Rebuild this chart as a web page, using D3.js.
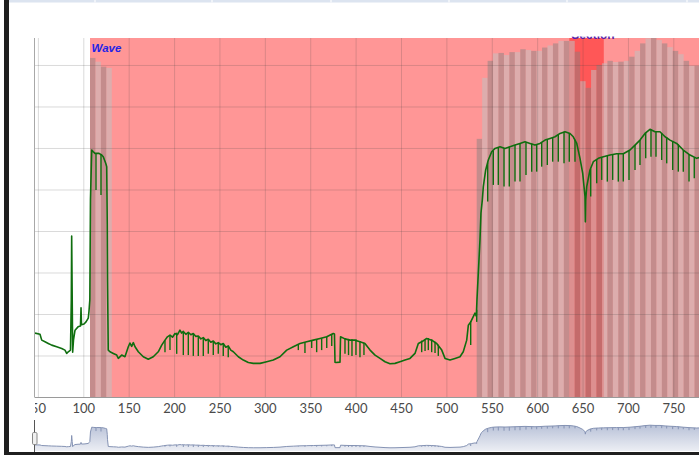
<html>
<head>
<script src="https://cdn.jsdelivr.net/npm/d3@7"></script>
<style>
  body { margin: 0; background: #fff; }
</style>
</head>
<body>
<script>

// ---- data ----
let xTicks = [50, 100, 150, 200, 250, 300, 350, 400, 450, 500, 550, 600, 650, 700, 750];
let gridLevels = [1, 2, 3, 4, 5, 6, 7, 8];

let waveBand = [107.4, 800];
let sectionBand = [635.4, 673.4];
let waveLabel = "Wave";
let sectionLabel = "Section";

let barStarts = [107.4, 113.4, 119.4, 125.4,
  533.4, 539.4, 545.4, 551.4, 557.4, 563.4, 569.4, 575.4, 581.4, 587.4,
  593.4, 599.4, 605.4, 611.4, 617.4, 623.4, 629.4, 635.4, 641.4, 647.4,
  653.4, 659.4, 665.4, 671.4, 677.4, 683.4, 689.4, 695.4, 701.4, 707.4,
  713.4, 719.4, 725.4, 731.4, 737.4, 743.4, 749.4, 755.4, 761.4, 767.4,
  773.4, 779.4];
let barHeights = [8.17, 8.08, 7.96, 7.93,
  6.22, 7.69, 8.10, 8.28, 8.29, 8.24, 8.31, 8.31, 8.38, 8.36,
  8.34, 8.34, 8.42, 8.47, 8.52, 8.58, 8.58, 8.58, 8.32, 7.61,
  7.45, 7.88, 8.00, 8.04, 8.10, 8.07, 8.08, 8.10, 8.20, 8.34,
  8.52, 8.64, 8.65, 8.60, 8.52, 8.43, 8.34, 8.26, 8.10, 7.98,
  7.98, 7.98];

// signal: [x, value]
let signal = [
  [46.8,1.54],[52.3,1.51],[54.2,1.37],[57.8,1.33],[61.4,1.29],[65.2,1.25],[70.7,1.21],[76.2,1.17],
  [79.8,1.13],[81.7,1.05],[83.5,1.09],[85.9,1.13],[86.8,2.34],[87.2,3.88],[87.8,2.34],[88.3,1.08],
  [89.2,1.37],[90.9,1.61],[94.2,1.69],[96.9,1.71],[97.5,2.15],[98.0,1.74],[100.8,1.76],[103.0,1.81],
  [105.5,1.90],[106.3,2.07],[107.2,2.34],[107.9,4.75],[109.3,5.95],[111.0,5.91],[112.9,5.87],[114.8,5.87],
  [117.3,5.87],[120.3,5.83],[122.0,5.79],[124.7,5.63],[125.8,5.55],[126.4,4.15],[126.7,2.82],[127.5,1.13],
  [129.4,1.09],[133.1,1.05],[136.8,1.01],[138.6,0.93],[142.3,1.01],[145.9,0.97],[149.6,1.21],[151.4,1.30],
  [153.3,1.22],[155.1,1.31],[157.0,1.21],[160.6,1.09],[166.1,0.97],[171.6,0.91],[177.1,0.97],[182.6,1.09],
  [186.4,1.25],[188.2,1.31],[190.0,1.37],[192.7,1.45],[195.5,1.49],[198.3,1.44],[201.0,1.53],[203.8,1.50],
  [206.5,1.61],[208.3,1.54],[210.2,1.58],[213.0,1.51],[215.7,1.56],[218.5,1.50],[221.2,1.53],[224.0,1.46],
  [226.7,1.47],[229.5,1.40],[232.2,1.43],[235.0,1.36],[237.7,1.39],[240.5,1.32],[243.2,1.35],[246.0,1.28],
  [248.7,1.31],[251.5,1.26],[254.2,1.29],[257.0,1.20],[259.7,1.23],[262.5,1.13],[265.3,1.09],[270.8,0.97],
  [276.3,0.89],[281.8,0.83],[287.3,0.81],[294.7,0.81],[302.1,0.85],[309.3,0.89],[316.7,0.97],[324.1,1.13],
  [331.4,1.21],[338.7,1.29],[346.1,1.33],[353.4,1.37],[360.8,1.41],[368.2,1.45],[375.4,1.53],[376.7,1.52],
  [377.3,0.84],[378.4,0.83],[382.8,0.84],[383.4,1.45],[388.3,1.40],[393.8,1.37],[399.3,1.37],[404.8,1.33],
  [410.3,1.29],[415.9,1.13],[421.4,1.01],[426.9,0.93],[432.4,0.85],[437.9,0.80],[443.4,0.81],[448.9,0.85],
  [454.4,0.89],[459.9,0.93],[465.4,1.05],[469.1,1.29],[472.8,1.33],[478.3,1.41],[483.8,1.37],[489.3,1.29],
  [494.9,1.13],[498.5,0.93],[504.0,0.89],[509.5,0.93],[515.0,0.97],[518.6,1.09],[522.4,1.37],[524.2,1.73],
  [526.8,1.81],[527.9,1.86],[531.5,2.02],[533.0,1.95],[533.7,2.34],[537.0,3.78],[538.1,4.43],[539.6,4.75],
  [540.7,5.07],[543.3,5.47],[546.2,5.71],[549.9,5.91],[553.6,5.99],[559.1,6.03],[564.6,5.99],[570.1,6.03],
  [575.6,6.07],[581.1,6.11],[586.6,6.15],[592.1,6.11],[597.6,6.07],[603.1,6.11],[608.7,6.19],[614.2,6.23],
  [619.7,6.27],[625.2,6.35],[630.7,6.39],[636.2,6.35],[639.8,6.27],[643.6,6.11],[647.2,5.75],[650.2,5.39],
  [652.7,4.83],[653.1,4.22],[653.5,4.75],[654.6,5.07],[658.2,5.47],[661.9,5.67],[667.4,5.75],[672.9,5.79],
  [680.3,5.83],[687.6,5.86],[694.9,5.86],[702.3,5.95],[707.8,6.07],[713.3,6.19],[718.8,6.35],[724.3,6.45],
  [729.8,6.39],[735.3,6.39],[740.9,6.27],[746.4,6.19],[753.7,6.11],[761.0,5.95],[768.4,5.83],[775.8,5.75],
  [781.0,5.79]
];

// short drops in the signal: [x, from, to]
let dips = [
  [114.0,5.87,4.99],[119.5,5.83,4.87],
  [190.0,1.37,1.08],[195.5,1.49,1.13],[202.9,1.55,1.04],[210.2,1.56,1.01],[215.7,1.55,1.01],[221.2,1.53,0.99],
  [226.7,1.47,0.99],[232.2,1.43,0.99],[237.7,1.39,1.04],[243.2,1.35,1.01],[248.7,1.31,1.04],[254.2,1.29,0.99],
  [259.7,1.23,0.96],
  [336.9,1.27,1.13],[344.2,1.32,1.06],[351.6,1.36,1.18],[357.1,1.39,1.08],[362.6,1.42,1.13],[368.2,1.46,1.18],
  [373.7,1.52,1.23],[388.3,1.42,1.04],[392.2,1.40,1.01],[396.0,1.39,0.99],[400.4,1.39,1.01],[404.8,1.35,0.96],
  [409.2,1.31,1.01],[472.8,1.36,1.08],[476.5,1.40,1.11],[480.1,1.42,1.13],[483.8,1.39,1.08],[487.5,1.33,1.06],
  [491.1,1.26,0.99],[526.8,1.83,1.25],[533.4,2.10,1.81],
  [545.5,5.65,4.71],[551.7,5.94,5.11],[557.2,6.02,5.11],[563.5,6.00,5.07],[569.3,6.03,5.07],[575.6,6.07,5.19],
  [581.1,6.11,5.19],[587.7,6.14,5.35],[594.0,6.11,5.43],[599.5,6.08,5.43],[605.0,6.14,5.55],[611.2,6.21,5.59],
  [617.1,6.25,5.67],[623.3,6.32,5.67],[629.6,6.39,5.63],[635.4,6.36,5.67],[641.7,6.20,5.67],
  [659.0,5.50,4.83],[665.6,5.73,5.15],[671.1,5.78,5.23],[677.3,5.81,5.19],[683.2,5.84,5.23],[689.4,5.86,5.19],
  [694.9,5.86,5.19],[701.2,5.94,5.23],[707.8,6.07,5.47],[713.3,6.19,5.59],[719.6,6.36,5.75],[725.4,6.45,5.79],
  [730.9,6.40,5.79],[737.2,6.35,5.71],[742.7,6.26,5.63],[749.3,6.16,5.47],[755.5,6.09,5.43],[761.0,5.95,5.43],
  [767.3,5.85,5.19],[773.1,5.77,5.27]
];

// ---- layout ----
let W = 699, H = 455;
let plot = {left: 35, right: 699, top: 38, bottom: 397};
let nav = {top: 420, bottom: 451};
let barStep = 6;

let x = d3.scaleLinear().domain([46.8, 778.3]).range([plot.left, plot.right]);
let y = d3.scaleLinear().domain([0, 8.65]).range([plot.bottom, plot.top]);
let yNav = d3.scaleLinear().domain([0, 6.5]).range([nav.bottom, 425]);

let svg = d3.select("body").append("svg")
    .attr("width", W)
    .attr("height", H)
    .style("display", "block");

let defs = svg.append("defs");
defs.append("clipPath").attr("id", "plotClip")
  .append("rect")
  .attr("x", plot.left).attr("y", plot.top)
  .attr("width", plot.right - plot.left).attr("height", plot.bottom - plot.top);
defs.append("clipPath").attr("id", "labelClip")
  .append("rect")
  .attr("x", plot.left).attr("y", 36.5)
  .attr("width", plot.right - plot.left).attr("height", plot.bottom - 36.5);
defs.append("clipPath").attr("id", "axisClip")
  .append("rect")
  .attr("x", plot.left).attr("y", plot.bottom)
  .attr("width", plot.right - plot.left).attr("height", 22);
defs.append("clipPath").attr("id", "navClip")
  .append("rect")
  .attr("x", plot.left).attr("y", nav.top - 4)
  .attr("width", plot.right - plot.left).attr("height", nav.bottom - nav.top + 6);

let grad = defs.append("linearGradient").attr("id", "navFill")
    .attr("x1", 0).attr("y1", 0).attr("x2", 0).attr("y2", 1);
grad.append("stop").attr("offset", "0%").attr("stop-color", "#b9c2d8");
grad.append("stop").attr("offset", "100%").attr("stop-color", "#eceef4");

// window chrome
svg.append("rect").attr("x", 9).attr("y", 0).attr("width", W - 9).attr("height", 2.5).attr("fill", "#dce4f0");
[95, 212, 331, 449, 567, 687].forEach(s =>
  svg.append("line")
    .attr("x1", s).attr("x2", s).attr("y1", 0).attr("y2", 2.5)
    .attr("stroke", "#f6f8fb").attr("stroke-width", 1.5)
);
svg.append("rect").attr("x", 4).attr("y", 0).attr("width", 5).attr("height", H).attr("fill", "#1f1f1f");
svg.append("rect").attr("x", 4).attr("y", 452).attr("width", W - 4).attr("height", 3).attr("fill", "#1f1f1f");

// ---- main plot ----
let g = svg.append("g").attr("clip-path", "url(#plotClip)");

g.append("rect")
  .attr("x", plot.left).attr("y", plot.top)
  .attr("width", plot.right - plot.left).attr("height", plot.bottom - plot.top)
  .attr("fill", "#ffffff");

// pink band
g.append("rect")
  .attr("x", x(waveBand[0])).attr("y", plot.top)
  .attr("width", x(waveBand[1]) - x(waveBand[0])).attr("height", plot.bottom - plot.top)
  .attr("fill", "#ff9696");

// red band
g.append("rect")
  .attr("x", x(sectionBand[0])).attr("y", plot.top)
  .attr("width", x(sectionBand[1]) - x(sectionBand[0])).attr("height", plot.bottom - plot.top)
  .attr("fill", "rgba(255,0,0,0.42)");

// bars
g.selectAll(".bar")
  .data(barStarts)
  .enter().append("rect")
  .attr("class", "bar")
  .attr("x", d => x(d))
  .attr("width", d => x(d + barStep) - x(d))
  .attr("y", (d, i) => y(barHeights[i]))
  .attr("height", (d, i) => plot.bottom - y(barHeights[i]))
  .attr("fill", (d, i) => i % 2 == 0 ? "rgba(129,129,129,0.47)" : "rgba(192,192,192,0.54)");

// grid
let gridColor = "rgba(70,70,70,0.2)";
let gridX = d3.axisBottom(x).tickValues(xTicks).tickSize(-(plot.bottom - plot.top)).tickFormat("");
g.append("g")
  .attr("transform", "translate(0," + plot.bottom + ")")
  .call(gridX)
  .call(a => a.select(".domain").remove())
  .call(a => a.selectAll("line").attr("stroke", gridColor));

let gridY = d3.axisLeft(y).tickValues(gridLevels).tickSize(-(plot.right - plot.left)).tickFormat("");
g.append("g")
  .attr("transform", "translate(" + plot.left + ",0)")
  .call(gridY)
  .call(a => a.select(".domain").remove())
  .call(a => a.selectAll("line").attr("stroke", gridColor));

// signal
let line = d3.line()
    .x(d => x(d[0]))
    .y(d => y(d[1]));

g.append("path")
  .datum(signal)
  .attr("d", line)
  .attr("fill", "none")
  .attr("stroke", "#0f6e0f")
  .attr("stroke-width", 1.6)
  .attr("stroke-linejoin", "round");

g.selectAll(".dip")
  .data(dips)
  .enter().append("line")
  .attr("class", "dip")
  .attr("x1", d => x(d[0])).attr("x2", d => x(d[0]))
  .attr("y1", d => y(d[1])).attr("y2", d => y(d[2]))
  .attr("stroke", "#0f6e0f")
  .attr("stroke-width", 1.4);

// band labels
g.append("text")
  .attr("x", x(waveBand[0]) + 1.5)
  .attr("y", 52)
  .attr("font-family", "Liberation Sans, Arial, sans-serif")
  .attr("font-size", 11.5)
  .attr("font-weight", "bold")
  .attr("font-style", "italic")
  .attr("fill", "#2424e6")
  .text(waveLabel);

svg.append("g")
  .attr("clip-path", "url(#labelClip)")
  .append("text")
  .attr("x", x(sectionBand[0]) + 2)
  .attr("y", 39)
  .attr("font-family", "Liberation Sans, Arial, sans-serif")
  .attr("font-size", 12)
  .attr("font-weight", "bold")
  .attr("fill", "#5a1fa8")
  .text(sectionLabel);

// axis lines
svg.append("line")
  .attr("x1", plot.left - 0.5).attr("x2", plot.left - 0.5)
  .attr("y1", plot.top).attr("y2", plot.bottom)
  .attr("stroke", "#a8a8a8");
svg.append("line")
  .attr("x1", plot.left - 0.5).attr("x2", plot.right)
  .attr("y1", plot.bottom + 0.5).attr("y2", plot.bottom + 0.5)
  .attr("stroke", "#9a9a9a");

// x labels
let xAxis = d3.axisBottom(x).tickValues(xTicks).tickSize(0).tickPadding(7);
svg.append("g")
  .attr("clip-path", "url(#axisClip)")
  .append("g")
  .attr("transform", "translate(0," + plot.bottom + ")")
  .call(xAxis)
  .call(a => a.select(".domain").remove())
  .call(a => a.selectAll("text")
      .attr("font-family", "Lato, sans-serif")
      .attr("font-size", 13)
      .attr("fill", "#4a4a4a"));

// ---- navigator ----
let ng = svg.append("g").attr("clip-path", "url(#navClip)");

let navArea = d3.area()
    .x(d => x(d[0]))
    .y0(nav.bottom)
    .y1(d => yNav(d[1]));

ng.append("path")
  .datum(signal)
  .attr("d", navArea)
  .attr("fill", "url(#navFill)");

ng.append("path")
  .datum(signal)
  .attr("d", d3.line().x(d => x(d[0])).y(d => yNav(d[1])))
  .attr("fill", "none")
  .attr("stroke", "#8593b4")
  .attr("stroke-width", 1);

ng.selectAll(".navdip")
  .data(dips)
  .enter().append("line")
  .attr("x1", d => x(d[0])).attr("x2", d => x(d[0]))
  .attr("y1", d => yNav(d[1])).attr("y2", d => yNav(d[2]))
  .attr("stroke", "#8593b4")
  .attr("stroke-width", 1);

// navigator handle
svg.append("line")
  .attr("x1", 34.5).attr("x2", 34.5)
  .attr("y1", nav.top).attr("y2", 452)
  .attr("stroke", "#555");
svg.append("rect")
  .attr("x", 32.5).attr("y", 432.5)
  .attr("width", 4.5).attr("height", 12)
  .attr("rx", 1.2)
  .attr("fill", "#f0f0f0")
  .attr("stroke", "#888");

</script>
</body>
</html>
